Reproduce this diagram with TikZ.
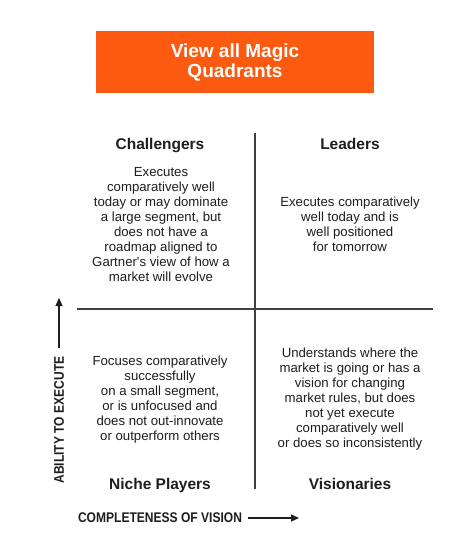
\documentclass[tikz,border=0pt]{standalone}
\usepackage{fontspec}
\setmainfont{Liberation Sans}
\newfontfamily\narrowfont[FakeStretch=0.86]{Liberation Sans}
\usetikzlibrary{arrows.meta}
\definecolor{gorange}{RGB}{252,90,16}
\definecolor{ink}{RGB}{30,30,30}
\tikzset{
  x=1pt, y=-1pt,
  quadhead/.style={font=\fontsize{15.5}{17}\selectfont\bfseries, text=ink, inner sep=0pt, anchor=base},
  quadbody/.style={font=\fontsize{13.2}{15}\selectfont, text=ink, align=center, inner sep=0pt},
  axislabel/.style={font=\narrowfont\fontsize{14}{16}\selectfont\bfseries, text=ink, inner sep=0pt},
  gridline/.style={draw=ink!85, line width=1.3pt},
  axisarrow/.style={draw=ink, line width=1.2pt, -{Triangle[width=7pt,length=8pt]}},
}
\begin{document}
\begin{tikzpicture}
\useasboundingbox (0,0) rectangle (474,539);
\fill[white] (0,0) rectangle (474,539);
% button
\node[fill=gorange, minimum width=278pt, minimum height=62pt, inner sep=0pt,
      text=white, align=center, font=\fontsize{19}{20}\selectfont\bfseries]
  (btn) at (235,62) {View all Magic\\Quadrants};
% grid lines
\coordinate (vtop) at (255,133);
\coordinate (vbot) at (255,489);
\coordinate (hl) at (77,309);
\coordinate (hr) at (433,309);
\draw[gridline] (vtop) -- (vbot);
\draw[gridline] (hl) -- (hr);
% headers
\node[quadhead] (chal) at (160,149) {Challengers};
\node[quadhead] (lead) at (350,149) {Leaders};
\node[quadhead] (niche) at (160,489) {Niche Players};
\node[quadhead] (vis) at (350,489) {Visionaries};
% bodies
\node[quadbody] (chalt) at (161,225) {Executes\\comparatively  well\\today or may dominate\\a large segment, but\\does not have  a\\roadmap aligned to\\Gartner\textquotesingle s view of how a\\market will evolve};
\node[quadbody] (leadt) at (350,224) {Executes comparatively\\well today and is\\well positioned\\for tomorrow};
\node[quadbody] (nicht) at (160,400) {Focuses comparatively\\successfully\\on a small segment,\\or is unfocused and\\does not out-innovate\\or outperform  others};
\node[quadbody] (vist) at (350,399) {Understands  where  the\\market is going or has a\\vision  for changing\\market rules, but does\\not yet execute\\comparatively  well\\or does  so inconsistently};
% axes
\node[axislabel, rotate=90] (ylab) at (59,420) {ABILITY TO EXECUTE};
\coordinate (ytip) at (59,298);
\draw[axisarrow] (ylab.east) ++(0,-8) -- (ytip);
\node[axislabel] (xlab) at (160,518) {COMPLETENESS OF VISION};
\coordinate (xtip) at (299,518);
\draw[axisarrow] (xlab.east) ++(6,0) -- (xtip);
\end{tikzpicture}
\end{document}
